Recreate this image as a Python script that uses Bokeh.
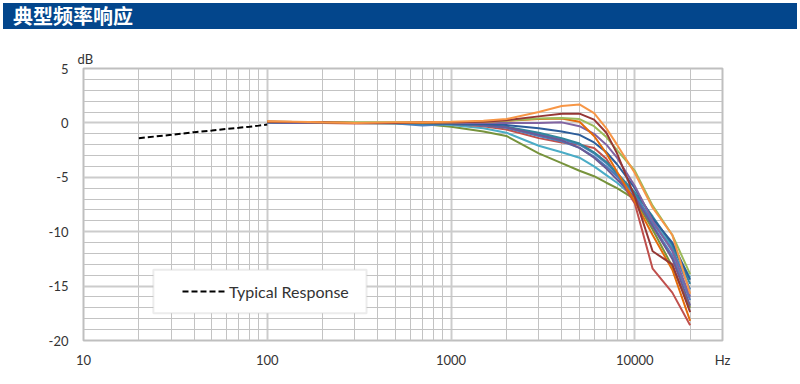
from bokeh.plotting import figure
from bokeh.models import (Range1d, FixedTicker, PrintfTickFormatter, Legend, LegendItem,
                          Title, Div, BoxAnnotation)
from bokeh.layouts import column
from bokeh.embed import file_html
from bokeh.resources import INLINE

# ---------------- data ----------------
title_text = "典型频率响应"
typ_label = "Typical Response"
y_unit = "dB"
x_unit = "Hz"

typ_freq = [20, 30, 40, 50, 60, 70, 80, 90, 100]
typ_db = [-1.4, -1.1, -0.85, -0.7, -0.55, -0.45, -0.35, -0.25, -0.15]

freq_hz = [100, 200, 300, 500, 700, 1000, 1500, 2000, 3000, 4000, 5000,
           6000, 7000, 8000, 10000, 12500, 16000, 20000]

curve_orange = [0.15, 0.05, 0.0, 0.05, 0.05, 0.1, 0.2, 0.35, 1.0, 1.55, 1.7, 0.9, -0.5, -2.0, -4.6, -7.8, -10.3, -15.7]
curve_maroon = [0.1, 0.05, 0.0, 0.0, 0.05, 0.05, 0.1, 0.25, 0.6, 0.85, 0.85, 0.3, -0.9, -2.8, -6.8, -11.8, -13.0, -17.4]
curve_green = [0.1, 0.05, 0.05, 0.05, 0.05, 0.05, 0.1, 0.2, 0.4, 0.45, 0.35, -0.3, -1.3, -2.5, -4.4, -7.6, -10.3, -13.9]
curve_purple = [0.05, 0.0, 0.0, 0.0, 0.0, 0.0, 0.0, 0.0, 0.0, 0.05, -0.3, -1.0, -2.0, -3.2, -5.8, -9.0, -11.8, -16.0]
curve_dkorange = [0.1, 0.05, 0.0, 0.0, 0.0, 0.05, 0.1, 0.2, 0.35, 0.4, 0.1, -1.2, -2.8, -4.5, -7.2, -10.3, -13.5, -18.2]
curve_dkblue = [0.05, 0.0, 0.0, 0.0, 0.0, -0.05, -0.1, -0.2, -0.5, -0.8, -1.1, -1.8, -2.7, -3.8, -6.0, -8.8, -11.0, -14.4]
curve_red = [0.1, 0.0, -0.05, 0.0, 0.0, -0.1, -0.3, -0.6, -1.4, -1.8, -2.0, -2.3, -3.3, -4.8, -7.4, -13.4, -15.6, -18.6]
curve_aqua = [0.05, 0.0, 0.0, 0.0, -0.05, -0.2, -0.5, -0.9, -2.1, -2.7, -3.2, -4.0, -4.8, -5.5, -6.9, -9.0, -11.4, -14.2]
curve_olive = [0.05, 0.0, 0.0, -0.05, -0.1, -0.35, -0.8, -1.2, -2.8, -3.7, -4.4, -4.9, -5.5, -6.0, -7.0, -9.8, -13.2, -17.0]
curve_blue = [0.05, 0.0, 0.0, -0.05, -0.25, -0.1, -0.2, -0.4, -1.0, -1.5, -2.0, -2.8, -3.7, -4.7, -6.6, -9.4, -12.2, -16.3]
curve_midblue = [0.05, 0.0, 0.0, 0.0, -0.1, -0.1, -0.25, -0.45, -1.2, -1.7, -2.3, -3.1, -4.0, -4.9, -6.5, -9.2, -11.6, -15.3]
curve_teal = [0.05, 0.0, 0.0, 0.0, -0.05, -0.1, -0.2, -0.35, -0.9, -1.4, -1.9, -2.7, -3.6, -4.6, -6.4, -8.6, -11.2, -14.8]
curve_purple2 = [0.05, 0.0, 0.0, 0.0, 0.0, -0.05, -0.2, -0.4, -1.1, -1.6, -2.3, -3.2, -4.2, -5.2, -6.8, -9.5, -12.5, -16.8]

curves = [curve_olive, curve_aqua, curve_red, curve_blue, curve_midblue, curve_teal,
          curve_purple2, curve_dkblue, curve_purple, curve_dkorange, curve_green,
          curve_maroon, curve_orange]
colors = ["#77933C", "#4BACC6", "#C0504D", "#4F81BD", "#4A7EBB", "#31859C",
          "#6B5A96", "#2C5D9A", "#8064A2", "#E46C0A", "#9BBB59",
          "#953735", "#F79646"]

x_min, x_max = 10, 30000
y_min, y_max = -20, 5
x_major = [10, 100, 1000, 10000, 30000]
x_minor = [m * d for d in [10, 100, 1000, 10000] for m in range(2, 10) if m * d <= 30000]
y_major = [-20, -15, -10, -5, 0, 5]
y_minor = list(range(-20, 6))

# ---------------- figure ----------------
FONT = "Lato"
TXT = "#333333"

p = figure(width=790, height=352, x_axis_type="log",
           x_range=Range1d(x_min, x_max), y_range=Range1d(y_min, y_max),
           output_backend="svg", toolbar_location=None,
           min_border_left=83, min_border_right=68,
           min_border_top=39, min_border_bottom=41)
p.background_fill_color = "white"
p.border_fill_color = "white"
p.outline_line_color = "#bfbfbf"
p.outline_line_width = 2

p.xaxis.ticker = FixedTicker(ticks=x_major, minor_ticks=x_minor)
p.yaxis.ticker = FixedTicker(ticks=y_major, minor_ticks=y_minor)
p.xaxis.formatter = PrintfTickFormatter(format="%d")
p.yaxis.formatter = PrintfTickFormatter(format="%d")
p.xaxis.major_label_overrides = {x_max: x_unit}
for ax in (p.xaxis, p.yaxis):
    ax.axis_line_color = None
    ax.major_tick_line_color = None
    ax.minor_tick_line_color = None
    ax.major_label_text_font = FONT
    ax.major_label_text_font_size = "13px"
    ax.major_label_text_color = TXT
p.xaxis.major_label_standoff = 5
p.yaxis.major_label_standoff = 9

for g in (p.xgrid, p.ygrid):
    g.grid_line_color = "#cccccc"
    g.grid_line_width = 2
    g.minor_grid_line_color = "#c3c3c3"
    g.minor_grid_line_width = 1

for vals, col in zip(curves, colors):
    p.line(freq_hz, vals, line_color=col, line_width=2)

r_typ = p.line(typ_freq, typ_db, line_color="black", line_width=2, line_dash="6 3")

# legend frame
p.add_layout(BoxAnnotation(left=24, right=347, top=-13.5, bottom=-17.5,
                           fill_color="white", fill_alpha=1,
                           line_color="#bfbfbf", line_width=2))

legend = Legend(items=[LegendItem(label=typ_label, renderers=[r_typ])],
                location=(99, 39), padding=0, margin=0,
                glyph_width=44, glyph_height=20, label_height=20,
                label_standoff=3,
                label_text_font=FONT, label_text_font_size="16px",
                label_text_color=TXT,
                border_line_color=None,
                background_fill_alpha=0)
p.add_layout(legend, "center")

p.add_layout(Title(text=y_unit, align="left", offset=-6, standoff=4,
                   text_font=FONT, text_font_size="13px", text_font_style="normal",
                   text_color=TXT), "above")

bar = Div(text=title_text, width=794, height=26, margin=(3, 0, 0, 3),
          styles={"background-color": "#03468C", "color": "white",
                  "font-family": "Noto Sans CJK SC", "font-size": "20px",
                  "font-weight": "bold", "line-height": "26px",
                  "padding-left": "10px", "box-sizing": "border-box"})

layout = column(bar, p, spacing=0)
open("out.html", "w").write(file_html(layout, INLINE))
